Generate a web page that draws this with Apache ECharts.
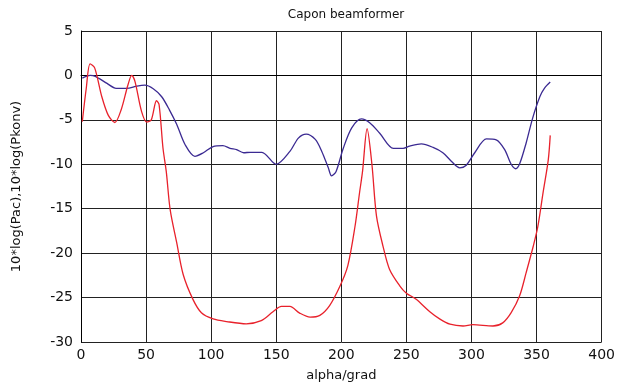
<!DOCTYPE html>
<html>
<head>
<meta charset="utf-8">
<script src="https://cdn.jsdelivr.net/npm/echarts@6/dist/echarts.min.js"></script>
<style>
  html, body { margin: 0; padding: 0; background: #fff; }
  #chart { width: 618px; height: 387px; }
</style>
</head>
<body>
<div id="chart"></div>
<script>
// Capon beamformer: angle (deg) vs power (dB)
const xTicks = [0, 50, 100, 150, 200, 250, 300, 350, 400];
const yTicks = [5, 0, -5, -10, -15, -20, -25, -30];

const blueX = [1, 7, 11, 20, 27, 35, 43, 49, 55.5, 62, 68, 73.5, 80, 87.5, 94, 101.5, 109, 114.5, 119.5, 125, 130, 139, 150, 160.5, 167, 173, 180, 185, 190, 192.5, 196, 201.5, 208, 215.5, 222, 229.5, 240, 247.5, 252.5, 261.5, 270.5, 278, 284.5, 291, 296, 302.5, 311.5, 319, 325.5, 330.5, 334, 337, 342, 347, 352.5, 356, 360.5];
const blueY = [-0.3, 0, -0.1, -0.9, -1.45, -1.45, -1.2, -1.1, -1.5, -2.4, -3.9, -5.5, -7.8, -9.1, -8.7, -8.0, -7.9, -8.2, -8.35, -8.7, -8.65, -8.65, -10.0, -8.55, -7.05, -6.6, -7.2, -8.55, -10.4, -11.3, -10.8, -8.2, -5.9, -4.9, -5.35, -6.5, -8.2, -8.2, -7.95, -7.7, -8.1, -8.7, -9.65, -10.4, -10.1, -8.7, -7.15, -7.25, -8.35, -10.0, -10.5, -9.95, -7.6, -4.8, -2.4, -1.45, -0.75];

const redX = [1, 4, 7, 10.5, 16, 21, 26, 31, 36, 39, 41.5, 46.5, 50.5, 54, 58, 60, 63, 65.5, 68.5, 73.5, 78.5, 86, 92.5, 101.5, 112, 127, 138.5, 147.5, 154, 160.5, 168, 176, 183.5, 191, 199, 205, 210.5, 214, 216.3, 219.8, 223.5, 227, 232, 237, 245, 250, 257.5, 268, 275.5, 283.5, 293.5, 301, 316.5, 324, 330.5, 337, 342, 347.5, 351, 355, 359, 360.5];
const redY = [-5.2, -1.5, 1.3, 0.85, -2.4, -4.5, -5.3, -3.8, -1.1, 0, -0.7, -4.05, -5.25, -5.0, -2.85, -3.3, -8.2, -10.8, -15.1, -18.8, -22.4, -25.2, -26.7, -27.4, -27.7, -27.95, -27.6, -26.6, -26.0, -26.0, -26.75, -27.2, -27.0, -25.9, -23.7, -21.4, -17.0, -13.2, -10.8, -6.0, -10.0, -15.8, -19.2, -21.8, -23.7, -24.5, -25.2, -26.6, -27.4, -28.0, -28.2, -28.05, -28.2, -27.85, -26.7, -24.8, -22.2, -19.2, -17.0, -13.2, -9.5, -6.75];

const pairs = (xs, ys) => xs.map((x, i) => [x, ys[i]]);

const chart = echarts.init(document.getElementById('chart'));
chart.setOption({
  animation: false,
  backgroundColor: '#fff',
  title: {
    text: 'Capon beamformer',
    left: 341,
    textAlign: 'center',
    top: 4,
    textStyle: { fontFamily: 'DejaVu Sans', fontSize: 12, fontWeight: 'normal', color: '#111' }
  },
  grid: { left: 81, right: 16, top: 31, bottom: 44, containLabel: false },
  xAxis: {
    type: 'value',
    min: xTicks[0],
    max: xTicks[xTicks.length - 1],
    interval: 50,
    name: 'alpha/grad',
    nameLocation: 'middle',
    nameGap: 27,
    nameTextStyle: { fontFamily: 'DejaVu Sans', fontSize: 13, color: '#111' },
    axisLine: { show: true, lineStyle: { color: '#000', width: 1 } },
    axisTick: { show: false },
    axisLabel: { fontFamily: 'DejaVu Sans', fontSize: 14, color: '#111', margin: 6 },
    splitLine: { show: true, lineStyle: { color: '#222', width: 1 } }
  },
  yAxis: {
    type: 'value',
    min: yTicks[yTicks.length - 1],
    max: yTicks[0],
    interval: 5,
    name: '10*log(Pac),10*log(Pkonv)',
    nameLocation: 'middle',
    nameGap: 58,
    nameTextStyle: { fontFamily: 'DejaVu Sans', fontSize: 13, color: '#111' },
    axisLine: { show: true, lineStyle: { color: '#000', width: 1 } },
    axisTick: { show: false },
    axisLabel: { fontFamily: 'DejaVu Sans', fontSize: 14, color: '#111', margin: 8 },
    splitLine: { show: true, lineStyle: { color: '#222', width: 1 } }
  },
  series: [
    {
      name: 'Pkonv',
      type: 'line',
      data: pairs(blueX, blueY),
      showSymbol: false,
      smooth: 0.3,
      lineStyle: { color: '#3b2a92', width: 1.3 }
    },
    {
      name: 'Pac',
      type: 'line',
      data: pairs(redX, redY),
      showSymbol: false,
      smooth: 0.3,
      lineStyle: { color: '#e8212b', width: 1.3 }
    }
  ]
});
</script>
</body>
</html>
